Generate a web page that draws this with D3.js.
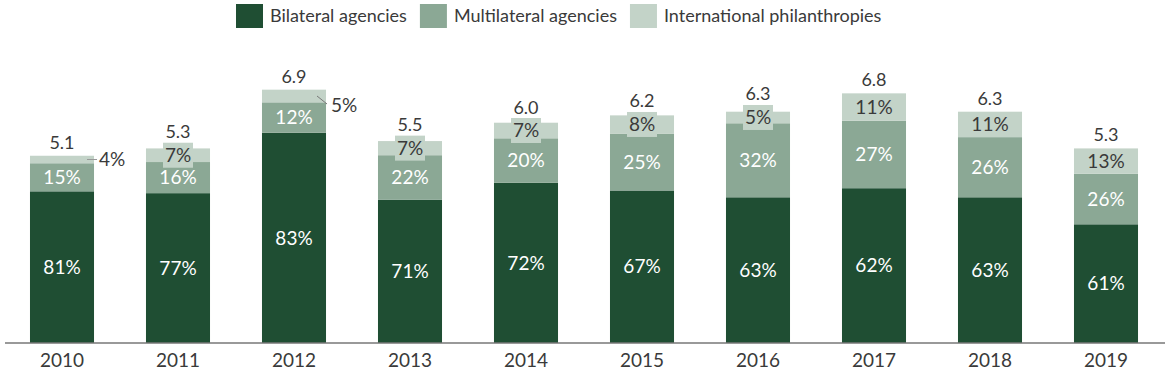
<!DOCTYPE html>
<html lang="en">
<head>
    <meta charset="UTF-8">
    <title>Funding by agency type</title>
    <script src="https://cdn.jsdelivr.net/npm/d3@7"></script>
    <style>
        body { margin: 0; background: #fff; }
        text { font-family: Lato, "Open Sans", sans-serif; }
    </style>
</head>
<body>
    <svg id="svg"></svg>

    <script>
        var WIDTH = 1170;
        var HEIGHT = 376;

        // data
        var years = ["2010","2011","2012","2013","2014","2015","2016","2017","2018","2019"];
        var totals = [5.1, 5.3, 6.9, 5.5, 6.0, 6.2, 6.3, 6.8, 6.3, 5.3];
        var bilateral = [81, 77, 83, 71, 72, 67, 63, 62, 63, 61];
        var multilateral = [15, 16, 12, 22, 20, 25, 32, 27, 26, 26];
        var philanthropies = [4, 7, 5, 7, 7, 8, 5, 11, 11, 13];
        var seriesNames = ["Bilateral agencies", "Multilateral agencies", "International philanthropies"];
        // small top slices whose label sits outside the bar
        var calloutYears = ["2010", "2012"];

        var COLORS = ["#1f4e33", "#8ba895", "#c3d3c8"];
        var TEXT = ["#ffffff", "#ffffff", "#3a3a3a"];

        var rows = years.map(function(y, i){
            var p = [bilateral[i], multilateral[i], philanthropies[i]];
            var sum = d3.sum(p);
            var acc = 0;
            var segs = p.map(function(v, k){
                var s = {year: y, k: k, pct: v, y0: acc, y1: acc + totals[i]*v/sum};
                acc = s.y1;
                return s;
            });
            return {year: y, total: totals[i], segs: segs};
        });

        var svg = d3.select("#svg")
                    .attr("width", WIDTH)
                    .attr("height", HEIGHT);

        var xScale = d3.scaleBand()
                       .domain(years)
                       .range([4, 1164])
                       .paddingInner(0.448)
                       .paddingOuter(0.224);

        var yScale = d3.scaleLinear()
                       .domain([0, 7])
                       .range([343, 86]);

        // bars
        var bars = svg.append("g").selectAll("g")
           .data(rows)
           .enter()
           .append("g");

        bars.selectAll("rect")
            .data(function(d){ return d.segs; })
            .enter()
            .append("rect")
            .attr("x", function(d){ return xScale(d.year); })
            .attr("width", xScale.bandwidth())
            .attr("y", function(d){ return yScale(d.y1); })
            .attr("height", function(d){ return yScale(d.y0) - yScale(d.y1); })
            .attr("fill", function(d){ return COLORS[d.k]; });

        // segment labels
        var segs = d3.merge(rows.map(function(r){ return r.segs; }));
        segs.forEach(function(d){
            var cx = xScale(d.year) + xScale.bandwidth()/2;
            var cy = (yScale(d.y0) + yScale(d.y1))/2;
            var h = yScale(d.y0) - yScale(d.y1);
            var label = d.pct + "%";
            if (d.k == 2 && calloutYears.indexOf(d.year) >= 0) {
                var right = xScale(d.year) + xScale.bandwidth();
                if (d.year == "2010") {
                    svg.append("line")
                       .attr("x1", right - 7).attr("y1", cy)
                       .attr("x2", right + 3).attr("y2", cy)
                       .attr("stroke", "#999").attr("stroke-width", 1);
                    svg.append("text")
                       .attr("x", right + 5).attr("y", cy)
                       .attr("dy", "0.35em")
                       .attr("font-size", 19).attr("fill", "#3a3a3a")
                       .text(label);
                } else {
                    svg.append("line")
                       .attr("x1", right - 9).attr("y1", cy)
                       .attr("x2", right + 1).attr("y2", cy + 8)
                       .attr("stroke", "#777").attr("stroke-width", 1);
                    svg.append("text")
                       .attr("x", right + 5).attr("y", cy + 9)
                       .attr("dy", "0.35em")
                       .attr("font-size", 19).attr("fill", "#3a3a3a")
                       .text(label);
                }
                return;
            }
            if (h < 22) {
                svg.append("rect")
                   .attr("x", cx - 15).attr("y", cy - 12.5)
                   .attr("width", 30).attr("height", 25)
                   .attr("fill", COLORS[d.k]);
            }
            svg.append("text")
               .attr("x", cx).attr("y", cy)
               .attr("dy", "0.35em")
               .attr("text-anchor", "middle")
               .attr("font-size", 19)
               .attr("fill", TEXT[d.k])
               .text(label);
        });

        // totals above bars
        svg.append("g").selectAll("text")
           .data(rows)
           .enter()
           .append("text")
           .attr("x", function(d){ return xScale(d.year) + xScale.bandwidth()/2; })
           .attr("y", function(d){
               var top = yScale(d.total) - 7;
               var light = d.segs[2];
               var h = yScale(light.y0) - yScale(light.y1);
               if (h < 22 && calloutYears.indexOf(d.year) < 0) {
                   top = Math.min(top, (yScale(light.y0) + yScale(light.y1))/2 - 17);
               }
               return top;
           })
           .attr("text-anchor", "middle")
           .attr("font-size", 18)
           .attr("fill", "#3a3a3a")
           .text(function(d){ return d.total.toFixed(1); });

        // x axis
        var xAxis = d3.axisBottom(xScale).tickSize(0).tickPadding(11);
        var ax = svg.append("g")
           .attr("transform", "translate(0,343)")
           .call(xAxis);
        ax.select(".domain").attr("stroke", "#777").attr("stroke-width", 1.3)
          .attr("d", "M5,0H1165");
        ax.selectAll("text")
          .attr("font-size", 19)
          .attr("font-family", "Lato, sans-serif")
          .attr("fill", "#3a3a3a");

        // legend
        var legend = svg.append("g");
        var lx = 236;
        seriesNames.forEach(function(name, k){
            legend.append("rect")
                  .attr("x", lx).attr("y", 4)
                  .attr("width", 27).attr("height", 24)
                  .attr("fill", COLORS[k]);
            var t = legend.append("text")
                  .attr("x", lx + 34).attr("y", 16)
                  .attr("dy", "0.35em")
                  .attr("font-size", 18)
                  .attr("fill", "#3a3a3a")
                  .text(name);
            lx += 34 + t.node().getComputedTextLength() + 13;
        });
    </script>
</body>
</html>
